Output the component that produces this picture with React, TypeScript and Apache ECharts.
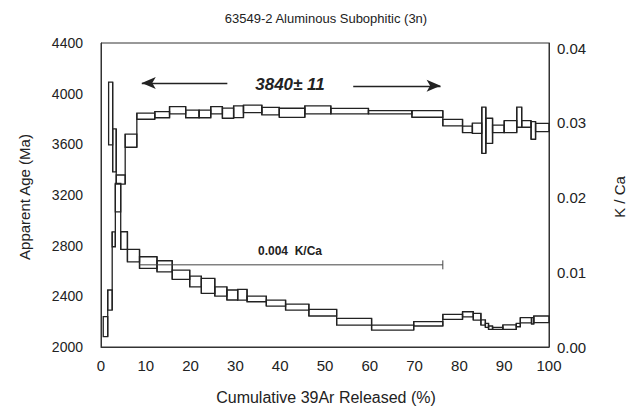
import React, { useEffect, useRef } from "react";
import * as echarts from "echarts";

// ---- Data ----
// Age spectrum: cumulative 39Ar step boundaries (%), apparent age (Ma), ± error (Ma)
const ageSteps = [1.7, 2.6, 3.4, 5.4, 8.0, 12.0, 15.3, 18.9, 21.9, 24.5, 27.1, 29.6, 31.8, 35.9, 39.8, 45.5, 51.3, 59.7, 69.4, 76.3, 80.7, 82.9, 85.0, 85.9, 87.4, 90.0, 92.8, 93.9, 96.0, 97.0, 100];
const ageValues = [3843, 3552, 3322, 3629, 3822, 3834, 3869, 3840, 3840, 3869, 3846, 3857, 3880, 3862, 3849, 3872, 3862, 3853, 3840, 3771, 3718, 3727, 3711, 3707, 3722, 3740, 3814, 3761, 3710, 3733];
const ageErrors = [248, 170, 36, 52, 24, 24, 29, 30, 30, 29, 40, 46, 30, 30, 36, 32, 22, 13, 26, 26, 26, 40, 182, 99, 30, 47, 79, 26, 70, 33];

// K/Ca spectrum: step boundaries (%), K/Ca value, ± error
const kcaSteps = [0.5, 1.5, 2.5, 3.2, 4.4, 5.9, 8.6, 12.5, 15.9, 19.8, 22.4, 25.4, 28.1, 30.5, 32.6, 36.9, 41.2, 46.4, 52.6, 60.4, 69.8, 76.3, 80.7, 83.1, 84.8, 85.8, 86.5, 87.4, 89.7, 92.7, 93.6, 96.1, 96.6, 100];
const kcaValues = [0.00272, 0.00629, 0.01442, 0.0200, 0.01425, 0.01224, 0.0113, 0.01081, 0.00968, 0.00878, 0.00818, 0.00744, 0.00696, 0.0070, 0.00644, 0.00588, 0.00535, 0.0046, 0.00339, 0.0026, 0.0031, 0.00404, 0.00438, 0.00406, 0.00328, 0.0029, 0.00259, 0.0025, 0.00266, 0.00294, 0.00358, 0.0035, 0.0037];
const kcaErrors = [0.00134, 0.00134, 0.0010, 0.0019, 0.00118, 0.00083, 0.00078, 0.00074, 0.00062, 0.00072, 0.0010, 0.00062, 0.00067, 0.00072, 0.00038, 0.0004, 0.0004, 0.00045, 0.00045, 0.00034, 0.00029, 0.00033, 0.00034, 0.00045, 0.00034, 0.00027, 0.00022, 0.00014, 0.00029, 0.00023, 0.00034, 0.00042, 0.00045];

// Plateau arrows (cumulative %, age Ma) and K/Ca reference line
const arrowLeft = [[28.2, 4085], [9.1, 4085]];
const arrowRight = [[56.3, 4062], [75.8, 4062]];
const kcaRefLine = [[8.6, 0.011], [76.3, 0.011]];
const kcaRefTick = [[76.3, 0.0104], [76.3, 0.0116]];

// Tick settings
const xTicks = { min: 0, max: 100, interval: 10 };
const ageTicks = { min: 2000, max: 4400, interval: 400 };
const kcaTicks = { min: 0, max: 0.0407, interval: 0.01 };

const titleText = "63549-2 Aluminous Subophitic (3n)";
const plateauText = "3840\u00b1 11";
const kcaText = "0.004  K/Ca";

const FONT = "'Liberation Sans', Arial, sans-serif";
const INK = "#222";

function boxes(steps: number[], vals: number[], errs: number[]) {
  return vals.map((v, i) => [steps[i], steps[i + 1], v - errs[i], v + errs[i]]);
}
function connectors(steps: number[], vals: number[], errs: number[]) {
  const out: number[][] = [];
  for (let i = 0; i < vals.length - 1; i++) {
    const lo = Math.min(vals[i] - errs[i], vals[i + 1] - errs[i + 1]);
    const hi = Math.max(vals[i] + errs[i], vals[i + 1] + errs[i + 1]);
    out.push([steps[i + 1], lo, hi]);
  }
  return out;
}

const renderBox = (params: any, api: any) => {
  const a = api.coord([api.value(0), api.value(3)]);
  const b = api.coord([api.value(1), api.value(2)]);
  return {
    type: "rect",
    shape: { x: a[0], y: a[1], width: b[0] - a[0], height: b[1] - a[1] },
    style: { fill: "none", stroke: INK, lineWidth: 1.3 },
  };
};
const renderConn = (params: any, api: any) => {
  const a = api.coord([api.value(0), api.value(2)]);
  const b = api.coord([api.value(0), api.value(1)]);
  return {
    type: "line",
    shape: { x1: a[0], y1: a[1], x2: b[0], y2: b[1] },
    style: { stroke: INK, lineWidth: 1.3 },
  };
};

export default function App() {
  const ref = useRef<HTMLDivElement>(null);
  useEffect(() => {
    if (!ref.current) return;
    const chart = echarts.init(ref.current, undefined, { renderer: "svg" });
    const arrowMark = (pts: number[][]) => ({
      silent: true,
      symbol: ["none", "arrow"],
      symbolSize: [9, 14],
      label: { show: false },
      lineStyle: { color: INK, width: 1.3, type: "solid" },
      data: [[{ coord: pts[0] }, { coord: pts[1] }]],
    });
    chart.setOption({
      animation: false,
      backgroundColor: "#fff",
      grid: { left: 101, right: 81, top: 43, bottom: 64, show: true, borderColor: "#333", borderWidth: 1 },
      xAxis: {
        type: "value",
        ...xTicks,
        axisLine: { show: true, lineStyle: { color: "#333", width: 1 } },
        axisTick: { show: false },
        splitLine: { show: false },
        axisLabel: { fontSize: 15, color: INK, margin: 11, fontFamily: FONT },
      },
      yAxis: [
        {
          type: "value",
          position: "left",
          ...ageTicks,
          axisLine: { show: true, lineStyle: { color: "#333", width: 1 } },
          axisTick: { show: false },
          splitLine: { show: false },
          axisLabel: { fontSize: 14, color: INK, margin: 18, fontFamily: FONT, formatter: (v: number) => String(v) },
        },
        {
          type: "value",
          position: "right",
          ...kcaTicks,
          axisLine: { show: true, lineStyle: { color: "#333", width: 1 } },
          axisTick: { show: false },
          splitLine: { show: false },
          axisLabel: {
            fontSize: 15,
            color: INK,
            margin: 8,
            fontFamily: FONT,
            formatter: (v: number) => (Math.abs(v * 100 - Math.round(v * 100)) < 1e-6 ? v.toFixed(2) : ""),
          },
        },
      ],
      series: [
        {
          type: "custom",
          name: "age",
          xAxisIndex: 0,
          yAxisIndex: 0,
          renderItem: renderBox,
          encode: { x: [0, 1], y: [2, 3] },
          data: boxes(ageSteps, ageValues, ageErrors),
          silent: true,
        },
        {
          type: "custom",
          name: "ageConn",
          xAxisIndex: 0,
          yAxisIndex: 0,
          renderItem: renderConn,
          encode: { x: 0, y: [1, 2] },
          data: connectors(ageSteps, ageValues, ageErrors),
          silent: true,
        },
        {
          type: "custom",
          name: "kca",
          xAxisIndex: 0,
          yAxisIndex: 1,
          renderItem: renderBox,
          encode: { x: [0, 1], y: [2, 3] },
          data: boxes(kcaSteps, kcaValues, kcaErrors),
          silent: true,
        },
        {
          type: "custom",
          name: "kcaConn",
          xAxisIndex: 0,
          yAxisIndex: 1,
          renderItem: renderConn,
          encode: { x: 0, y: [1, 2] },
          data: connectors(kcaSteps, kcaValues, kcaErrors),
          silent: true,
        },
        {
          type: "line",
          name: "kcaRef",
          yAxisIndex: 1,
          data: kcaRefLine,
          showSymbol: false,
          lineStyle: { color: "#444", width: 1 },
          silent: true,
        },
        {
          type: "line",
          name: "kcaRefTick",
          yAxisIndex: 1,
          data: kcaRefTick,
          showSymbol: false,
          lineStyle: { color: "#444", width: 1 },
          silent: true,
        },
        {
          type: "line",
          name: "arrows",
          yAxisIndex: 0,
          data: [],
          markLine: arrowMark(arrowLeft),
        },
        {
          type: "line",
          name: "arrows2",
          yAxisIndex: 0,
          data: [],
          markLine: arrowMark(arrowRight),
        },
      ],
      graphic: [
        {
          type: "text",
          x: 326,
          y: 18,
          style: { text: titleText, fontSize: 13, fontFamily: FONT, fill: INK, textAlign: "center", textVerticalAlign: "middle" },
        },
        {
          type: "text",
          x: 290,
          y: 84,
          style: { text: plateauText, fontSize: 17, fontWeight: "bold", fontStyle: "italic", fontFamily: FONT, fill: INK, textAlign: "center", textVerticalAlign: "middle" },
        },
        {
          type: "text",
          x: 258,
          y: 251,
          style: { text: kcaText, fontSize: 12, fontWeight: "bold", fontFamily: FONT, fill: INK, textAlign: "left", textVerticalAlign: "middle" },
        },
        {
          type: "text",
          x: 24,
          y: 197,
          rotation: Math.PI / 2,
          style: { text: "Apparent Age (Ma)", fontSize: 15, fontFamily: FONT, fill: INK, textAlign: "center", textVerticalAlign: "middle" },
        },
        {
          type: "text",
          x: 619,
          y: 197,
          rotation: Math.PI / 2,
          style: { text: "K / Ca", fontSize: 15, fontFamily: FONT, fill: INK, textAlign: "center", textVerticalAlign: "middle" },
        },
        {
          type: "text",
          x: 326,
          y: 397,
          style: { text: "Cumulative 39Ar Released (%)", fontSize: 16, fontFamily: FONT, fill: INK, textAlign: "center", textVerticalAlign: "middle" },
        },
      ],
    });
    return () => chart.dispose();
  }, []);
  return <div ref={ref} style={{ position: "fixed", left: 0, top: 0, width: 630, height: 411 }} />;
}
